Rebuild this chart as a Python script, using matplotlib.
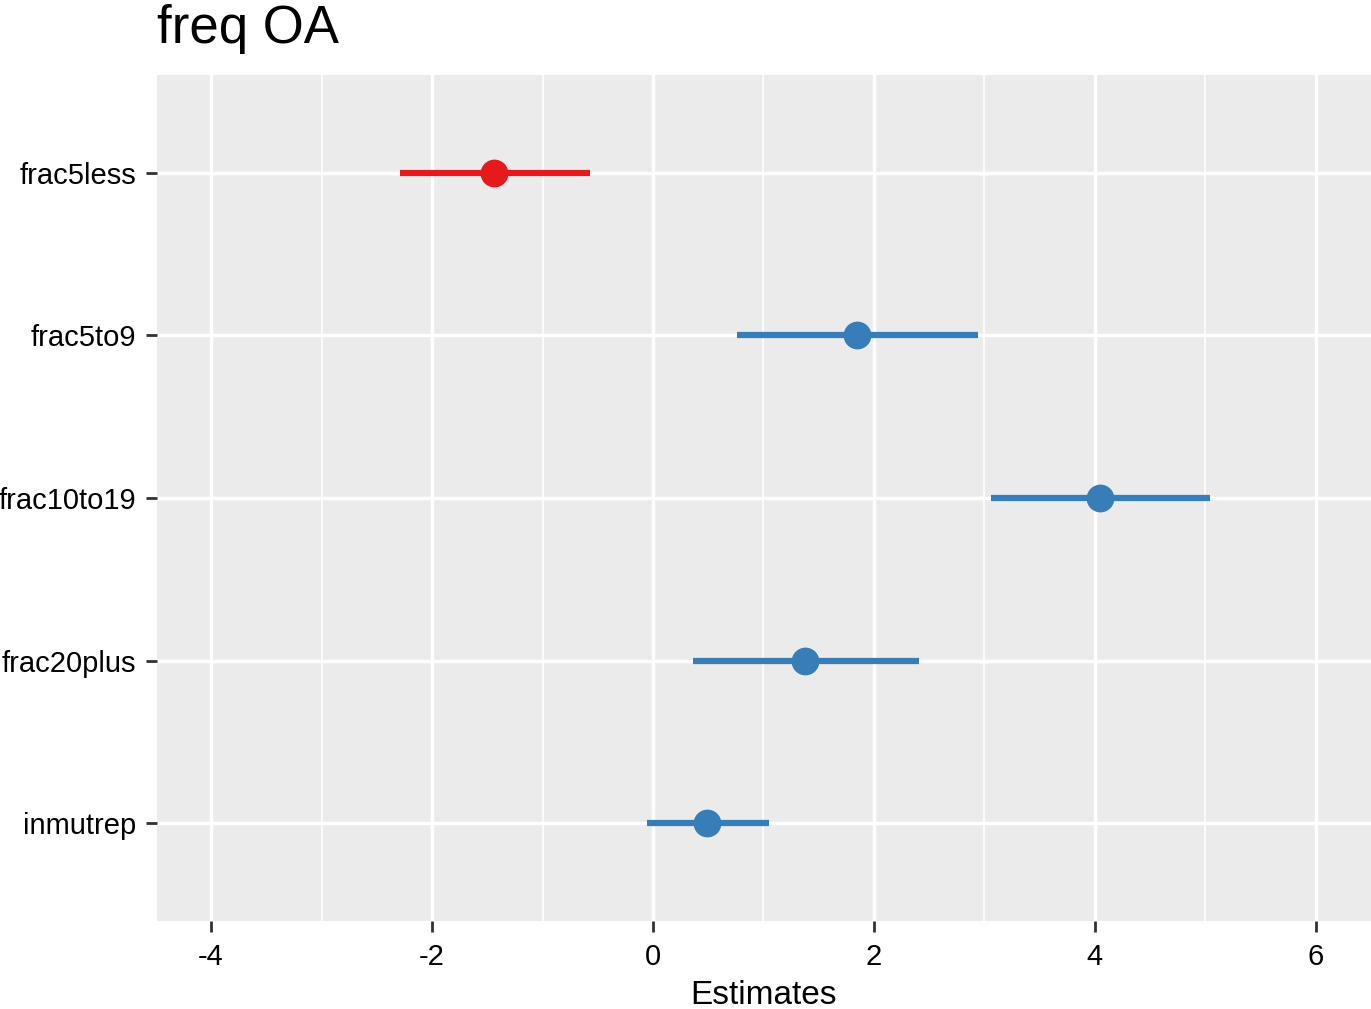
#!/usr/bin/env python3
"""Forest plot of model estimates (freq OA), ggplot-like styling."""

import matplotlib
matplotlib.use("Agg")
import matplotlib.pyplot as plt

# Data
terms = ["frac5less", "frac5to9", "frac10to19", "frac20plus", "inmutrep"]
estimates = [-1.44, 1.85, 4.05, 1.38, 0.49]
ci_low = [-2.29, 0.76, 3.06, 0.36, -0.05]
ci_high = [-0.57, 2.94, 5.04, 2.41, 1.05]
x_ticks = [-4, -2, 0, 2, 4, 6]
x_minor = [-3, -1, 1, 3, 5]

RED = "#E41A1C"
BLUE = "#377EB8"

plt.rcParams['font.family'] = ['Liberation Sans', 'DejaVu Sans']

fig = plt.figure(figsize=(13.71, 10.09), dpi=100)
ax = fig.add_axes([0.1145, 0.0872, 1 - 0.1145, 0.9257 - 0.0872])
ax.set_facecolor("#EBEBEB")
for s in ax.spines.values():
    s.set_visible(False)

n = len(terms)
ypos = list(range(n, 0, -1))  # first term on top

ax.set_xlim(-4.49, 6.50)
ax.set_ylim(0.4, n + 0.6)

ax.set_xticks(x_ticks)
ax.set_xticklabels([str(t) for t in x_ticks])
ax.set_xticks(x_minor, minor=True)
ax.set_yticks(ypos)
ax.set_yticklabels(terms)

ax.grid(which="major", color="white", linewidth=2.5)
ax.grid(which="minor", axis="x", color="white", linewidth=1.2)
ax.set_axisbelow(True)

ax.tick_params(axis="both", which="major", length=8, width=2, color="#333333",
               labelsize=21, labelcolor="black")
ax.tick_params(axis="x", which="major", pad=8)
ax.tick_params(axis="y", which="major", pad=7)
ax.tick_params(axis="x", which="minor", length=0)

for y, est, lo, hi in zip(ypos, estimates, ci_low, ci_high):
    col = RED if est < 0 else BLUE
    ax.plot([lo, hi], [y, y], color=col, linewidth=4.5, solid_capstyle="butt", zorder=3)
    ax.plot([est], [y], marker="o", markersize=20, color=col, markeredgewidth=0, zorder=4)

ax.set_xlabel("Estimates", fontsize=24, labelpad=6)

fig.text(0.1145, 0.957, "freq OA", fontsize=38, ha="left", va="baseline")

fig.savefig("out.png", dpi=100)
